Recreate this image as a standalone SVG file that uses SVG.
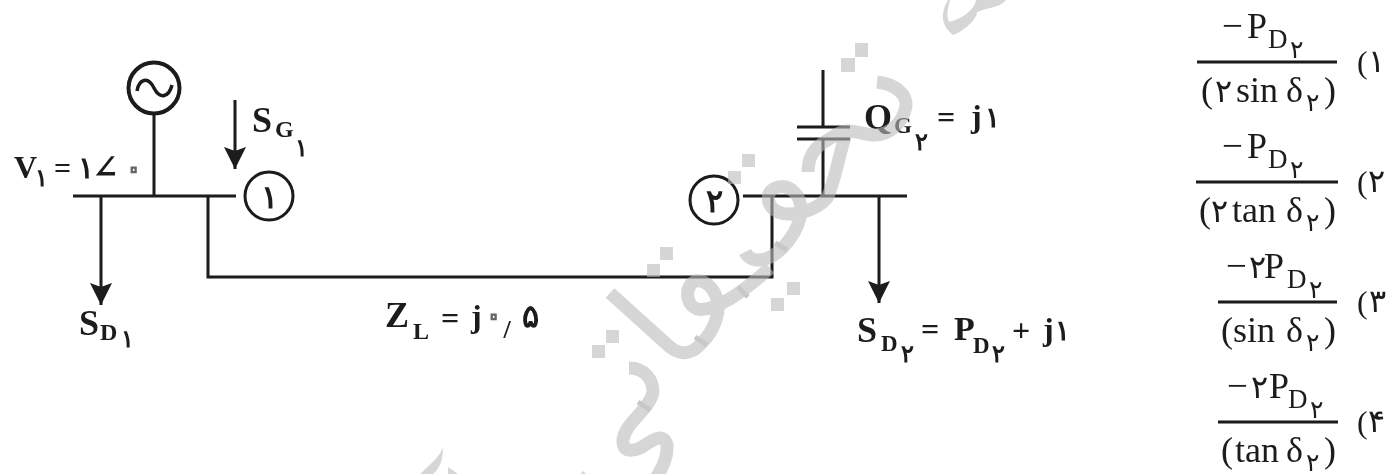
<svg xmlns="http://www.w3.org/2000/svg" width="1394" height="474" viewBox="0 0 1394 474">
<style>
.l{fill:none;stroke:#1a1a1a;stroke-width:3}
.t{font-family:"Liberation Serif","DejaVu Serif",serif;fill:#1a1a1a}
.b{font-weight:bold}
.m{text-anchor:middle}
.w{fill:none;stroke:#bbb;stroke-width:13}
.f{fill:#bbb}
.x{fill:none;stroke:#a5a5a5;stroke-width:5}
.z{fill:#fff;stroke:#666;stroke-width:1.200}
.s{font-size:25px}
.d{font-size:36px}
.n{font-size:37px}
.e{font-size:32px}
.q{font-size:24px}
</style>
<defs>
<marker id="a" markerWidth="22" markerHeight="22" refX="22" refY="11" orient="auto" markerUnits="userSpaceOnUse" viewBox="0 0 22 22"><path d="M0 0L4 11L0 22L22 11Z" fill="#1a1a1a"/></marker>
<filter id="soft" x="-2%" y="-2%" width="104%" height="104%"><feGaussianBlur stdDeviation="0.45"/></filter>
</defs>
<rect width="1394" height="474" fill="#fff"/>
<g filter="url(#soft)">
<g id="connectors">
<path class="l" d="M73 196H236"/>
<path class="l" d="M154 114V196"/>
<path class="l" d="M208 196V277H772V196"/>
<path class="l" d="M743 196H907"/>
<path class="l" d="M823 70V127M797 127H850M797 139H850M823 139V196"/>
<path class="l" d="M101 196V305" marker-end="url(#a)"/>
<path class="l" d="M235 100V169" marker-end="url(#a)"/>
<path class="l" d="M879 196V303" marker-end="url(#a)"/>
</g>
<g id="generator"><circle cx="154" cy="88" r="25.500" fill="#fff" stroke="#1a1a1a" stroke-width="4"/><path d="M137 91C139 79 148 76 154 88C160 100 169 97 172 85" fill="none" stroke="#1a1a1a" stroke-width="3.500"/></g>
<g id="bus1"><circle cx="269" cy="196" r="24" fill="#fff" stroke="#1a1a1a" stroke-width="3"/><text class="t b m" x="269" y="208" font-size="32">۱</text></g>
<g id="bus2"><circle cx="714" cy="200" r="24" fill="#fff" stroke="#1a1a1a" stroke-width="3"/><text class="t b m" x="714" y="212" font-size="32">۲</text></g>
<g id="labels" class="t b">
<text x="14" y="178" font-size="32">V</text><text class="m q" x="41" y="186">۱</text><text x="54" y="178" font-size="30">=</text><text class="m" x="86" y="178" font-size="30">۱</text><text x="92" y="178" font-size="32">∠</text><text class="m z" x="133" y="180" font-size="36">۰</text>
<text x="252" y="132" font-size="36">S</text><text x="275" y="137" font-size="24">G</text><text class="m q" x="301" y="156">۱</text>
<text x="79" y="335" font-size="36">S</text><text x="100" y="340" font-size="24">D</text><text class="m q" x="127" y="347">۱</text>
<text x="385" y="327" font-size="36">Z</text><text x="413" y="339" font-size="24">L</text><text x="441" y="329" font-size="32">=</text><text x="471" y="327" font-size="32">j</text><text class="m z" x="493" y="327" font-size="36">۰</text><text class="m" x="507" y="338" font-size="26">/</text><text class="m" x="530" y="327" font-size="32">۵</text>
<text x="864" y="129" font-size="36">Q</text><text x="894" y="133" font-size="23">G</text><text class="m q" x="921" y="150">۲</text><text x="937" y="128" font-size="32">=</text><text x="971" y="127" font-size="32">j</text><text class="m" x="992" y="127" font-size="28">۱</text>
<text x="857" y="342" font-size="36">S</text><text x="881" y="351" font-size="23">D</text><text class="m q" x="907" y="362">۲</text><text x="921" y="340" font-size="32">=</text><text x="954" y="340" font-size="34">P</text><text x="973" y="353" font-size="23">D</text><text class="m q" x="998" y="362">۲</text><text x="1012" y="341" font-size="32">+</text><text x="1043" y="340" font-size="32">j</text><text class="m" x="1062" y="340" font-size="28">۱</text>
</g>
<g id="options" class="t">
<g id="opt1"><path class="l" d="M1197 62H1337"/>
<text class="n" x="1222" y="38">−</text><text class="d" x="1247" y="38">P</text><text x="1268" y="48" font-size="27">D</text><text class="m s" x="1296" y="58">۲</text>
<text class="d" x="1201" y="102">(</text><text class="m e" x="1223" y="102">۲</text><text class="d" x="1236" y="102">sin</text><text class="d" x="1286" y="102">δ</text><text class="m s" x="1312" y="111">۲</text><text class="d" x="1324" y="102">)</text>
<text class="e" x="1357" y="73">(</text><text class="m e" x="1376" y="72">۱</text></g>
<g id="opt2"><path class="l" d="M1196 182H1338"/>
<text class="n" x="1222" y="158">−</text><text class="d" x="1247" y="158">P</text><text x="1268" y="168" font-size="27">D</text><text class="m s" x="1296" y="178">۲</text>
<text class="d" x="1199" y="222">(</text><text class="m e" x="1219" y="222">۲</text><text class="d" x="1232" y="222">tan</text><text class="d" x="1286" y="222">δ</text><text class="m s" x="1312" y="231">۲</text><text class="d" x="1324" y="222">)</text>
<text class="e" x="1357" y="193">(</text><text class="m e" x="1376" y="192">۲</text></g>
<g id="opt3"><path class="l" d="M1218 302H1337"/>
<text class="n" x="1226" y="278">−</text><text class="m e" x="1257" y="278">۲</text><text class="d" x="1264" y="278">P</text><text x="1287" y="288" font-size="27">D</text><text class="m s" x="1315" y="298">۲</text>
<text class="d" x="1221" y="342">(</text><text class="d" x="1233" y="342">sin</text><text class="d" x="1286" y="342">δ</text><text class="m s" x="1312" y="351">۲</text><text class="d" x="1324" y="342">)</text>
<text class="e" x="1357" y="313">(</text><text class="m e" x="1377" y="312">۳</text></g>
<g id="opt4"><path class="l" d="M1218 422H1338"/>
<text class="n" x="1227" y="398">−</text><text class="m e" x="1259" y="398">۲</text><text class="d" x="1269" y="398">P</text><text x="1288" y="408" font-size="27">D</text><text class="m s" x="1316" y="418">۲</text>
<text class="d" x="1221" y="462">(</text><text class="d" x="1235" y="462">tan</text><text class="d" x="1286" y="462">δ</text><text class="m s" x="1312" y="471">۲</text><text class="d" x="1324" y="462">)</text>
<text class="e" x="1357" y="433">(</text><text class="m e" x="1376" y="432">۴</text></g>
</g>
</g>
<g id="watermark" opacity="0.6">
<path class="w" d="M877 82C895 84 907 94 906 106C903 124 888 135 875 135C860 135 850 126 836 135C820 144 808 150 808 172"/>
<path class="w" d="M848 128C838 155 836 180 827 198C815 212 790 217 778 212C765 205 765 190 778 187C790 184 801 195 801 210C800 232 780 255 765 259C755 262 748 258 745 252"/>
<path class="w" d="M610 293L670 347C680 355 690 355 700 345C715 330 722 310 716 296C710 282 698 277 691 284C685 292 687 305 697 309C715 313 745 290 770 268"/>
<path class="w" d="M629 368C645 368 653 380 653 392C650 410 625 422 623 440C622 452 632 452 642 447C652 440 664 432 667 445C668 458 662 468 656 478"/>
<path class="f" d="M948 0C941 12 940 25 953 35C962 32 977 20 977 12C985 8 1000 8 1006 0L976 0C975 8 965 18 949 22C946 15 948 8 950 0Z"/>
<path class="f" d="M443 447C441 455 430 465 420 474L433 474C440 468 443 460 443 447ZM448 467L458 474L448 474ZM581 474L583 471L586 474Z"/>
<path class="x" d="M775 243L787 250M738 287L748 297M695 337L707 345M638 402L650 410"/>
<rect class="f" x="855" y="43" width="13" height="14"/><rect class="f" x="841" y="58" width="14" height="14"/>
<rect class="f" x="742" y="154" width="13" height="13"/><rect class="f" x="728" y="171" width="13" height="13"/>
<rect class="f" x="660" y="247" width="13" height="13"/><rect class="f" x="647" y="264" width="13" height="13"/>
<rect class="f" x="787" y="282" width="13" height="13"/><rect class="f" x="771" y="298" width="13" height="13"/>
<rect class="f" x="606" y="330" width="13" height="13"/><rect class="f" x="592" y="345" width="13" height="13"/>
</g>
</svg>
